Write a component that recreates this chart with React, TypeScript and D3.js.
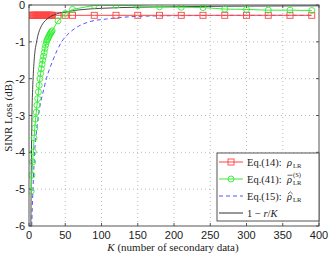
import React from "react";
import * as d3 from "d3";

const xTicks = [0, 50, 100, 150, 200, 250, 300, 350, 400];
const yTicks = [0, -1, -2, -3, -4, -5, -6];

const markerK = [3, 4, 5, 6, 7, 8, 9, 10, 11, 12, 13, 14, 15, 16, 17, 18, 19, 20, 21, 22, 23, 24, 25, 26, 27, 28, 29, 30, 31, 32, 40, 50, 60, 90, 120, 150, 180, 210, 240, 270, 300, 330, 360, 390];

const redVals = [-0.28, -0.28, -0.28, -0.28, -0.28, -0.28, -0.28, -0.28, -0.28, -0.28, -0.28, -0.28, -0.28, -0.28, -0.28, -0.28, -0.28, -0.28, -0.28, -0.28, -0.28, -0.28, -0.28, -0.28, -0.28, -0.28, -0.28, -0.28, -0.28, -0.28, -0.28, -0.28, -0.28, -0.28, -0.28, -0.28, -0.28, -0.28, -0.28, -0.28, -0.28, -0.28, -0.28, -0.28];

const greenVals = [-5.05, -4.62, -4.26, -3.99, -3.61, -3.34, -3.1, -2.91, -2.72, -2.54, -2.36, -2.18, -2.0, -1.86, -1.73, -1.61, -1.5, -1.39, -1.29, -1.18, -1.09, -1.0, -0.95, -0.91, -0.87, -0.83, -0.79, -0.76, -0.73, -0.7, -0.43, -0.23, -0.12, -0.01, -0.01, -0.02, -0.05, -0.06, -0.07, -0.11, -0.12, -0.14, -0.14, -0.15];

const blueK = [3.8, 4.5, 5.5, 7, 8.5, 10.5, 13, 16, 19, 24, 33, 45, 56, 68, 84, 107, 125, 150, 200, 250, 300, 390];
const blueVals = [-6.0, -5.5, -5.0, -4.3, -3.8, -3.4, -3.0, -2.65, -2.4, -2.0, -1.5, -1.0, -0.75, -0.58, -0.45, -0.38, -0.34, -0.31, -0.29, -0.285, -0.28, -0.28];

const blackK = [2.6, 3, 3.5, 4, 5, 6, 8, 10, 12, 15, 20, 25, 30, 40, 50, 70, 100, 150, 200, 300, 400];
const blackVals = [-6.0, -4.8, -3.8, -3.05, -2.3, -1.85, -1.3, -1.05, -0.85, -0.66, -0.48, -0.38, -0.31, -0.23, -0.19, -0.13, -0.09, -0.06, -0.045, -0.03, -0.022];

const W = 331;
const H = 254;
const L = 29, R = 319, T = 5, B = 226;

const RED = "#ff4444";
const GREEN = "#33ee33";
const BLUE = "#5555ff";
const BLACK = "#333333";
const serif = "'Liberation Serif', 'DejaVu Serif', serif";
const sans = "'Liberation Sans', Arial, sans-serif";

export default function App() {
  const x = d3.scaleLinear().domain([0, 400]).range([L, R]);
  const y = d3.scaleLinear().domain([-6, 0]).range([B, T]);
  const line = d3.line<[number, number]>().x((d) => x(d[0])).y((d) => y(d[1]));
  const smooth = d3.line<[number, number]>().x((d) => x(d[0])).y((d) => y(d[1])).curve(d3.curveMonotoneX);

  const red: [number, number][] = markerK.map((k, i) => [k, redVals[i]]);
  const green: [number, number][] = markerK.map((k, i) => [k, greenVals[i]]);
  const blue: [number, number][] = blueK.map((k, i) => [k, blueVals[i]]);
  const black: [number, number][] = blackK.map((k, i) => [k, blackVals[i]]);

  const legendRows = [
    { y: 162, color: RED, dash: undefined, marker: "square" },
    { y: 179, color: GREEN, dash: undefined, marker: "circle" },
    { y: 196, color: BLUE, dash: "4,3", marker: "none" },
    { y: 213, color: BLACK, dash: undefined, marker: "none" },
  ];

  return (
    <svg width={W} height={H} style={{ position: "absolute", left: 0, top: 0, background: "#fff" }}>
      <defs>
        <clipPath id="plotclip">
          <rect x={L} y={T} width={R - L} height={B - T} />
        </clipPath>
      </defs>
      <rect x={0} y={0} width={W} height={H} fill="#fff" />
      {xTicks.slice(1, -1).map((t) => (
        <line key={"gx" + t} x1={x(t)} x2={x(t)} y1={T} y2={B} stroke="#bbb" strokeWidth={1} strokeDasharray="1,3" />
      ))}
      {yTicks.slice(1, -1).map((t) => (
        <line key={"gy" + t} x1={L} x2={R} y1={y(t)} y2={y(t)} stroke="#bbb" strokeWidth={1} strokeDasharray="1,3" />
      ))}
      {xTicks.map((t) => (
        <g key={"tx" + t}>
          <line x1={x(t)} x2={x(t)} y1={B} y2={B - 3} stroke="#555" />
          <line x1={x(t)} x2={x(t)} y1={T} y2={T + 3} stroke="#555" />
          <text x={x(t)} y={239} textAnchor="middle" fontFamily={sans} fontSize={11} fill="#222">{t}</text>
        </g>
      ))}
      {yTicks.map((t) => (
        <g key={"ty" + t}>
          <line x1={L} x2={L + 3} y1={y(t)} y2={y(t)} stroke="#555" />
          <line x1={R} x2={R - 3} y1={y(t)} y2={y(t)} stroke="#555" />
          <text x={25} y={y(t) + 4} textAnchor="end" fontFamily={sans} fontSize={11} fill="#222">{t}</text>
        </g>
      ))}
      <g clipPath="url(#plotclip)">
        <path d={smooth(blue) || ""} fill="none" stroke={BLUE} strokeWidth={1} strokeDasharray="4,3" />
        <path d={line(red) || ""} fill="none" stroke={RED} strokeWidth={1} />
        {red.map((d, i) => (
          <rect key={"rs" + i} x={x(d[0]) - 3} y={y(d[1]) - 3} width={6} height={6} fill="none" stroke={RED} strokeWidth={0.9} />
        ))}
        <path d={smooth(black) || ""} fill="none" stroke={BLACK} strokeWidth={0.9} />
        <path d={line(green) || ""} fill="none" stroke={GREEN} strokeWidth={1} />
        {green.map((d, i) => (
          <circle key={"gc" + i} cx={x(d[0])} cy={y(d[1])} r={3} fill="none" stroke={GREEN} strokeWidth={0.9} />
        ))}
      </g>
      <rect x={L} y={T} width={R - L} height={B - T} fill="none" stroke="#555" strokeWidth={1} />
      <text x={173} y={251} textAnchor="middle" fontFamily={serif} fontSize={11} fill="#222">
        <tspan fontStyle="italic">K</tspan> (number of secondary data)
      </text>
      <text transform={`translate(12,116) rotate(-90)`} textAnchor="middle" fontFamily={serif} fontSize={11} fill="#222">
        SINR Loss (dB)
      </text>
      <rect x={217} y={153} width={102} height={68} fill="#fff" stroke="#555" strokeWidth={1} />
      {legendRows.map((r, i) => (
        <g key={"lg" + i}>
          <line x1={219} x2={243} y1={r.y} y2={r.y} stroke={r.color} strokeWidth={1} strokeDasharray={r.dash} />
          {r.marker === "square" && <rect x={228} y={r.y - 3} width={6} height={6} fill="none" stroke={r.color} strokeWidth={0.9} />}
          {r.marker === "circle" && <circle cx={231} cy={r.y} r={3} fill="none" stroke={r.color} strokeWidth={0.9} />}
        </g>
      ))}
      <g fontFamily={serif} fontSize={10.5} fill="#222">
        <text x={247} y={165.5}>Eq.(14):</text>
        <text x={287} y={165.5} fontStyle="italic">ρ</text>
        <text x={293} y={167.5} fontSize={6.5}>LR</text>

        <text x={247} y={182.5}>Eq.(41):</text>
        <text x={287} y={182.5} fontStyle="italic">ρ</text>
        <line x1={287.5} x2={292.5} y1={175.2} y2={175.2} stroke="#222" strokeWidth={0.7} />
        <text x={293} y={185} fontSize={6.5}>LR</text>
        <text x={293} y={176.5} fontSize={6.5}>(S)</text>

        <text x={247} y={199.5}>Eq.(15):</text>
        <text x={287} y={199.5} fontStyle="italic">ρ</text>
        <polyline points="288,194 290.3,191.8 292.6,194" fill="none" stroke="#222" strokeWidth={0.7} />
        <text x={293} y={201.5} fontSize={6.5}>LR</text>

        <text x={247} y={216.5}>1 − <tspan fontStyle="italic">r</tspan>/<tspan fontStyle="italic">K</tspan></text>
      </g>
    </svg>
  );
}
